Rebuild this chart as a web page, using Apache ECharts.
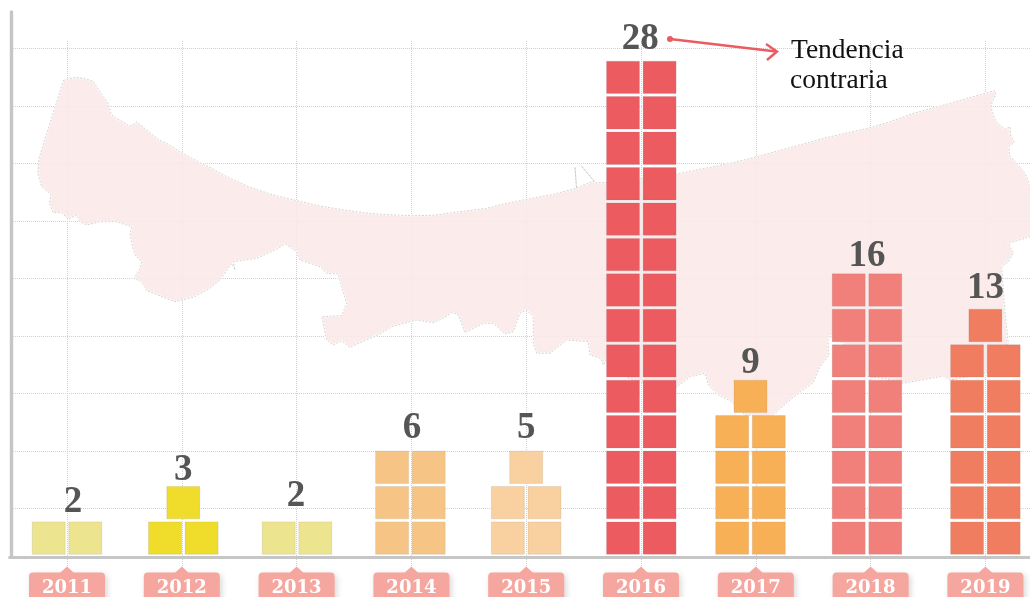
<!DOCTYPE html>
<html>
<head>
<meta charset="utf-8">
<style>html,body{margin:0;padding:0;background:#fff;overflow:hidden}#c{width:1030px;height:597px}</style>
<script src="https://cdn.jsdelivr.net/npm/echarts@6/dist/echarts.min.js"></script>
</head>
<body>
<div id="c"></div>
<script>
// ---- data ----
const years = ['2011','2012','2013','2014','2015','2016','2017','2018','2019'];
const counts = [2,3,2,6,5,28,9,16,13];
const colors = ['#ECE48F','#EFDC2B','#ECE48F','#F6C586','#F9D1A0','#EC5B60','#F8B057','#F1807B','#F07D60'];
// background map outline (in picture units)
const mapX = [63.3,68.3,77.3,86,93.3,100,108.3,111,116.7,124,129.3,134.3,136.7,146.7,159.3,166.7,181.7,200,210,226.7,250,273.3,296.7,320,340,363.3,386.7,413.3,433.3,460,486.7,506.7,526.7,553.3,570,576.5,575,576.5,583.3,594,581.5,594,596.7,607.3,676.7,730,755,823.3,871.7,890,913.3,950,985,995,995.7,991.7,991.7,996,1005,1010,1010.7,1014.3,1009.3,1009.3,1016.7,1025,1030,1040,1030,1008.3,1013.3,1008.3,1001.7,1005,1008.3,987,950,943.3,903.3,888,870,850,845,833,828,829,820,813,803,790,776.7,770,745,730,718.3,708.3,705,690,675.3,650,628,607.3,603.3,600.7,590,588.3,566.7,550,536.7,533.3,533.3,526.7,520,513.3,505,493.3,483.3,465,458.3,451.7,443.3,433.3,416.7,391.7,380,350,341.7,333.3,326.7,321.7,341.7,346.7,341.7,338.3,326.7,320,300,296.7,285,276.7,256.7,233.3,235,231.7,220,210,193.3,175,146.7,141.7,134,139.3,141.7,135,131.7,130,131.7,116.7,100,86.7,80,76.7,68.3,61.7,53.3,49.3,51,41.7,37.7,39,50];
const mapY = [80.7,78.7,77.3,79,81.3,91.7,103.3,114,118.7,122.3,126,124,121.7,130,140,143.3,152.7,162.7,167.3,176.7,187.3,195,200.7,206,209.3,212.7,214.7,215.7,215.3,211.7,208.3,203.3,199.3,194.3,190,188,167,188,185,181,166,181,182.7,182.3,174,163.3,157.3,138.3,127.3,121.7,113.3,103.3,93.3,90.7,95,103.3,110,121.7,129.3,126.7,135,142.3,146.7,155,163.3,173.3,185,210,236.7,243.3,253.3,261.7,266.7,313.3,343.3,373,380,376,383.3,379,377,370,346,333,340,355,366.7,383,390,400,411.7,416.7,415,400.7,395,385,373.3,376.7,388.3,385,378,358.3,365,358.3,355,341.7,340,353.3,353.3,343.3,316.7,310,313.3,331.7,334,323.3,323.3,332.7,315,312.3,318.3,322.7,320,326.7,334,347.3,340.7,345,340,316.7,315.7,303.3,286.7,274,273.3,266.7,260,251.7,244,249.3,258.3,261.7,270,263.3,280,288.3,297.3,301.7,290.7,281.7,278.3,270,261.7,255,243.3,233.3,226.7,221.7,221.7,225,221.7,215,219.3,212.7,212.7,203.3,195,186.7,173.3,158.3,123.3];

// ---- layout (pixels, not data) ----
const tileW = 33, tileH = 32.4, tileGap = 3.6, rowInset = 2.7;
const columnNudge = [0,1.5,0.4,-1,0,0.3,-5.3,-3.6,0];
const labelDx = [6,0,-1,1.5,0,-1,0,0,0];
const labelDy = [19,16,25,23,23,22,17,17,21];
const valueFont = 'bold 37px "Liberation Serif", serif';

const chart = echarts.init(document.getElementById('c'));

function renderTiles(params, api) {
  const i = params.dataIndex, n = counts[i];
  const cx = api.coord([i, 0])[0] + columnNudge[i];
  const kids = [];
  let topY = 0;
  const pairs = Math.floor(n / 2), odd = n % 2;
  const rect = (x, v) => {
    const bottom = api.coord([i, v])[1] - rowInset;
    topY = bottom - tileH;
    kids.push({type:'rect', shape:{x:x, y:topY, width:tileW, height:tileH},
      style:{fill:colors[i], stroke:'rgba(120,120,120,0.15)', lineWidth:1}});
  };
  for (let r = 0; r < pairs; r++) {
    rect(cx - tileGap/2 - tileW, r*2);
    rect(cx + tileGap/2, r*2);
  }
  if (odd) rect(cx - tileW/2, pairs*2);
  kids.push({type:'text', style:{text:String(n), x:cx + labelDx[i], y:topY - labelDy[i],
    font:valueFont, fill:'#555555', align:'center', verticalAlign:'middle'}});
  return {type:'group', children:kids};
}

function renderNotches(params, api) {
  const p = api.coord([params.dataIndex, 0]);
  return {type:'polygon', shape:{points:[[p[0],p[1]+9.5],[p[0]+7,p[1]+16],[p[0]-7,p[1]+16]]},
    style:{fill:'#F5A69E'}};
}

function renderMap(params, api) {
  const pts = mapX.map((x, k) => api.coord([x, mapY[k]]));
  return {type:'group', children:[
    {type:'polygon', shape:{points:pts}, style:{fill:'rgba(251,232,232,0.86)', stroke:'#ffffff', lineWidth:1.6}},
    {type:'polygon', shape:{points:pts}, style:{fill:'none', stroke:'rgba(170,170,170,0.75)', lineWidth:0.7, lineDash:[2,1.5]}}
  ]};
}

const dotted = {lineStyle:{type:'dotted', color:'#d0d0d0', width:1}};

chart.setOption({
  animation:false,
  backgroundColor:'#ffffff',
  grid:[
    {left:9.6, top:12, width:1033.2, height:545, outerBoundsMode:'none'},
    {left:9.6, top:41, width:1033.2, height:526, outerBoundsMode:'none'},
    {left:13, top:48.7, right:0, height:517.5, outerBoundsMode:'none'},
    {left:0, top:0, width:1030, height:597, outerBoundsMode:'none'}
  ],
  xAxis:[
    {gridIndex:0, type:'category', data:years, boundaryGap:true,
      axisLine:{show:true, onZero:false, lineStyle:{color:'#c6c6c6', width:3}},
      axisTick:{show:false}, splitLine:{show:false},
      axisLabel:{show:true, interval:0, margin:15.5, color:'#ffffff',
        fontFamily:'"DejaVu Serif", serif', fontWeight:'bold', fontSize:18, lineHeight:20,
        width:76, align:'center', backgroundColor:'#F5A69E', borderRadius:4, padding:[6,0,8,0],
        shadowColor:'rgba(0,0,0,0.16)', shadowBlur:6, shadowOffsetX:2, shadowOffsetY:2}},
    {gridIndex:1, type:'category', data:years, boundaryGap:true,
      axisLine:{show:false}, axisTick:{show:false}, axisLabel:{show:false},
      splitLine:Object.assign({show:true, alignWithLabel:true, interval:0, showMinLine:true, showMaxLine:true}, dotted)},
    {gridIndex:2, type:'value', min:0, max:1, show:false},
    {gridIndex:3, type:'value', min:0, max:1030, show:false}
  ],
  yAxis:[
    {gridIndex:0, type:'value', min:0, max:545/17.72, offset:-1.5,
      axisLine:{show:true, lineStyle:{color:'#c6c6c6', width:3.4}},
      axisTick:{show:false}, axisLabel:{show:false}, splitLine:{show:false}},
    {gridIndex:1, type:'value', min:0, max:1, show:false},
    {gridIndex:2, type:'value', min:0, max:9, interval:1,
      axisLine:{show:false}, axisTick:{show:false}, axisLabel:{show:false},
      splitLine:Object.assign({show:true, showMinLine:false, showMaxLine:true}, dotted)},
    {gridIndex:3, type:'value', min:0, max:597, inverse:true, show:false}
  ],
  series:[
    {type:'custom', name:'map', xAxisIndex:3, yAxisIndex:3, z:2, silent:true, data:[[0,0]], renderItem:renderMap},
    {type:'custom', name:'notches', xAxisIndex:0, yAxisIndex:0, z:2, silent:true, data:years.map((y,i)=>[i,0]), renderItem:renderNotches},
    {type:'custom', name:'casos', xAxisIndex:0, yAxisIndex:0, z:3, silent:true, data:counts.map((c,i)=>[i,c]), renderItem:renderTiles}
  ],
  graphic:[
    {type:'circle', shape:{cx:670, cy:39, r:3}, style:{fill:'#E85C62'}, z:10, silent:true},
    {type:'polyline', shape:{points:[[670,39],[776,51.5]]}, style:{stroke:'#E85C62', lineWidth:2.4, fill:'none'}, z:10, silent:true},
    {type:'polyline', shape:{points:[[766,44],[777,51.5],[767,60]]}, style:{stroke:'#E85C62', lineWidth:2.4, fill:'none'}, z:10, silent:true},
    {type:'text', x:791, y:51, style:{text:'Tendencia', font:'27.5px "Liberation Serif", serif', fill:'#111111', verticalAlign:'middle'}, z:10, silent:true},
    {type:'text', x:790, y:81, style:{text:'contraria', font:'27.5px "Liberation Serif", serif', fill:'#111111', verticalAlign:'middle'}, z:10, silent:true}
  ]
});
</script>
</body>
</html>
